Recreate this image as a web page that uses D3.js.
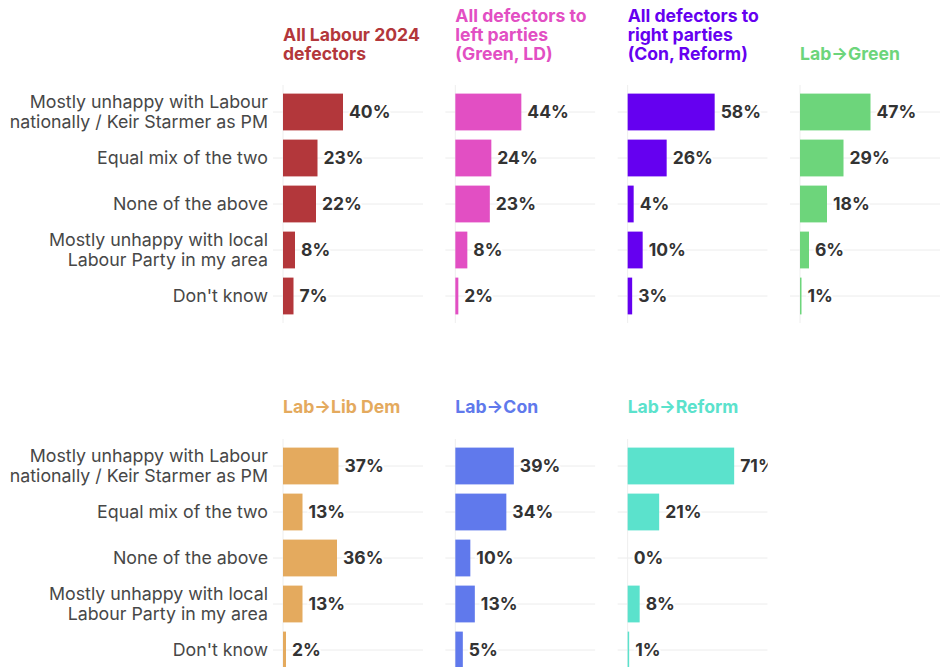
<html lang="en">
<head>
  <meta charset="utf-8" />
  <script src="https://d3js.org/d3.v7.min.js"></script>
  <style>
    body { margin: 0; background: #fff; }
    text { font-family: Inter, "Noto Sans", sans-serif; }
  </style>
</head>
<body>
<script>
  // answer options (rows of every panel)
  const categories = [
    ["Mostly unhappy with Labour", "nationally / Keir Starmer as PM"],
    ["Equal mix of the two"],
    ["None of the above"],
    ["Mostly unhappy with local", "Labour Party in my area"],
    ["Don't know"]
  ];

  // panel titles, one array of lines each
  const titles = [
    ["All Labour 2024", "defectors"],
    ["All defectors to", "left parties", "(Green, LD)"],
    ["All defectors to", "right parties", "(Con, Reform)"],
    ["Lab\u2192Green"],
    ["Lab\u2192Lib Dem"],
    ["Lab\u2192Con"],
    ["Lab\u2192Reform"]
  ];

  const colors = ["#b3373b", "#e24fc3", "#6500f0", "#6dd57b", "#e4aa5e", "#6079ec", "#5be2cc"];

  // values in %, same order as categories
  const allLabour = [40, 23, 22, 8, 7];
  const leftParties = [44, 24, 23, 8, 2];
  const rightParties = [58, 26, 4, 10, 3];
  const labGreen = [47, 29, 18, 6, 1];
  const labLibDem = [37, 13, 36, 13, 2];
  const labCon = [39, 34, 10, 13, 5];
  const labReform = [71, 21, 0, 8, 1];

  const series = [allLabour, leftParties, rightParties, labGreen, labLibDem, labCon, labReform];

  const W = 941, H = 667;
  const svg = d3.select("body").append("svg")
    .attr("width", W)
    .attr("height", H);

  const x = d3.scaleLinear().domain([0, 100]).range([0, 150]);
  const col = d3.scaleLinear().domain([0, 3]).range([283, 800]);
  const rowTop = [89, 443];   // top of band area for each row of panels
  const titleBase = [60, 413];

  const y = d3.scaleBand()
    .domain(d3.range(categories.length))
    .range([0, 230])
    .paddingInner(0.2)
    .paddingOuter(0.1);

  const defs = svg.append("defs");

  // category labels on the left of each row
  rowTop.forEach(function (top) {
    const g = svg.append("g").attr("transform", "translate(0," + top + ")");
    categories.forEach(function (lines, i) {
      const cy = y(i) + y.bandwidth() / 2;
      const t = g.append("text")
        .attr("x", 268)
        .attr("text-anchor", "end")
        .attr("font-size", 17.8)
        .attr("fill", "#474747");
      lines.forEach(function (line, j) {
        t.append("tspan")
          .attr("x", 268)
          .attr("y", cy + 6 + (j - (lines.length - 1) / 2) * 20)
          .text(line);
      });
    });
  });

  series.forEach(function (values, p) {
    const row = p < 4 ? 0 : 1;
    const c = p < 4 ? p : p - 4;
    const px = col(c);
    const color = colors[p];

    const g = svg.append("g")
      .attr("transform", "translate(" + px + "," + rowTop[row] + ")");

    defs.append("clipPath").attr("id", "clip" + p)
      .append("rect")
      .attr("x", -12).attr("y", -10)
      .attr("width", 152).attr("height", 260);

    // title, bottom aligned
    const title = titles[p];
    const tt = svg.append("text")
      .attr("font-size", 17.6)
      .attr("font-weight", 700)
      .attr("fill", color);
    title.forEach(function (line, j) {
      tt.append("tspan")
        .attr("x", px)
        .attr("y", titleBase[row] - (title.length - 1 - j) * 19)
        .text(line);
    });

    const inner = g.append("g").attr("clip-path", "url(#clip" + p + ")");

    // faint gridlines
    inner.selectAll("line.grid")
      .data(values)
      .join("line")
      .attr("class", "grid")
      .attr("x1", -10)
      .attr("x2", 140)
      .attr("y1", (d, i) => y(i) + y.bandwidth() / 2)
      .attr("y2", (d, i) => y(i) + y.bandwidth() / 2)
      .attr("stroke", "#ececec")
      .attr("stroke-width", 1);

    // faint baseline
    inner.append("line")
      .attr("x1", 0).attr("x2", 0)
      .attr("y1", -4).attr("y2", 234)
      .attr("stroke", "#eeeeee");

    inner.selectAll("rect.bar")
      .data(values)
      .join("rect")
      .attr("class", "bar")
      .attr("x", 0)
      .attr("y", (d, i) => y(i))
      .attr("width", d => x(d))
      .attr("height", y.bandwidth())
      .attr("fill", color);

    inner.selectAll("text.val")
      .data(values)
      .join("text")
      .attr("class", "val")
      .attr("x", d => x(d) + 6)
      .attr("y", (d, i) => y(i) + y.bandwidth() / 2 + 6)
      .attr("font-size", 17.5)
      .attr("font-weight", 700)
      .attr("fill", "#333")
      .attr("stroke", "#fff")
      .attr("stroke-width", 4)
      .attr("paint-order", "stroke")
      .text(d => d + "%");
  });
</script>
</body>
</html>
